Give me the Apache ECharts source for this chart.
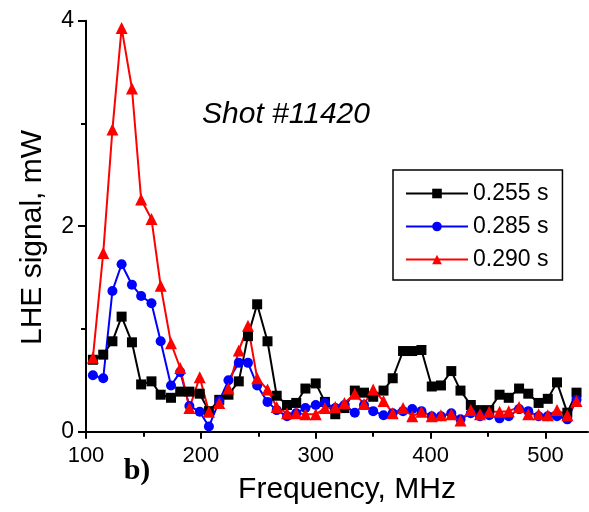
<!DOCTYPE html>
<html>
<head>
<meta charset="utf-8">
<script src="https://cdn.jsdelivr.net/npm/echarts@6/dist/echarts.min.js"></script>
<style>
  html, body { margin: 0; padding: 0; background: #fff; }
  #chart { width: 589px; height: 512px; }
</style>
</head>
<body>
<div id="chart"></div>
<script>
// Frequency grid of the spectrum analyser, MHz
const freq = [106, 115, 123, 131, 140, 148, 157, 165, 174, 182, 190, 199,
  207, 216, 224, 233, 241, 249, 258, 266, 275, 283, 291, 300,
  308, 317, 325, 334, 342, 350, 359, 367, 376, 384, 392, 401,
  409, 418, 426, 435, 443, 451, 460, 468, 477, 485, 494, 502,
  510, 519, 527];

// LHE signal, mW, at three moments of the shot
const sig255 = [0.70, 0.75, 0.88, 1.12, 0.87, 0.46, 0.49, 0.36, 0.33, 0.39, 0.39, 0.37,
  0.20, 0.31, 0.36, 0.49, 0.93, 1.24, 0.88, 0.35, 0.26, 0.28, 0.42, 0.47,
  0.29, 0.17, 0.23, 0.40, 0.38, 0.34, 0.40, 0.52, 0.785, 0.785, 0.795, 0.44,
  0.45, 0.59, 0.40, 0.26, 0.21, 0.21, 0.36, 0.33, 0.42, 0.37, 0.28, 0.32,
  0.48, 0.185, 0.38];
const sig285 = [0.55, 0.52, 1.37, 1.63, 1.43, 1.32, 1.25, 0.88, 0.45, 0.58, 0.25, 0.195,
  0.05, 0.30, 0.50, 0.67, 0.67, 0.45, 0.29, 0.21, 0.15, 0.18, 0.23, 0.26,
  0.28, 0.23, 0.26, 0.185, 0.26, 0.20, 0.16, 0.18, 0.20, 0.22, 0.20, 0.15,
  0.15, 0.18, 0.12, 0.18, 0.15, 0.16, 0.13, 0.15, 0.22, 0.20, 0.15, 0.15,
  0.15, 0.12, 0.31];
const sig290 = [0.72, 1.74, 2.94, 3.93, 3.34, 2.26, 2.07, 1.42, 0.86, 0.62, 0.23, 0.53,
  0.195, 0.28, 0.42, 0.79, 1.03, 0.52, 0.41, 0.24, 0.18, 0.18, 0.17, 0.17,
  0.23, 0.24, 0.28, 0.37, 0.27, 0.41, 0.30, 0.18, 0.23, 0.15, 0.195, 0.15,
  0.16, 0.17, 0.11, 0.21, 0.17, 0.195, 0.195, 0.20, 0.24, 0.17, 0.17, 0.16,
  0.21, 0.16, 0.30];

const seriesNames = ['0.255 s', '0.285 s', '0.290 s'];
const xMajorTicks = [100, 200, 300, 400, 500];
const xMinorTicks = [150, 250, 350, 450];

const FONT = '"Liberation Sans", Arial, sans-serif';
const pairs = vals => freq.map((f, i) => [f, vals[i]]);

const chart = echarts.init(document.getElementById('chart'), null, { renderer: 'canvas' });

const axisLine = { show: true, lineStyle: { color: '#000', width: 2 } };

function lineSeries(name, vals, color, symbol, size) {
  return {
    name: name,
    type: 'line',
    xAxisIndex: 0,
    yAxisIndex: 0,
    data: pairs(vals),
    symbol: symbol,
    symbolSize: size,
    showAllSymbol: true,
    lineStyle: { color: color, width: 2 },
    itemStyle: { color: color, borderWidth: 0 },
    emphasis: { disabled: true },
    animation: false
  };
}

chart.setOption({
  animation: false,
  backgroundColor: '#fff',
  grid: { left: 86, right: 1, top: 20.7, bottom: 80.3, outerBoundsMode: 'none' },
  xAxis: [{
    type: 'value',
    min: 100, max: 537,
    interval: 100,
    axisLine: axisLine,
    splitLine: { show: false },
    axisTick: { show: true, inside: false, length: 7, customValues: xMajorTicks,
      lineStyle: { color: '#000', width: 2 } },
    axisLabel: { show: true, customValues: xMajorTicks, margin: 13,
      color: '#000', fontSize: 22, fontFamily: FONT }
  }, {
    type: 'value',
    min: 100, max: 537,
    position: 'bottom',
    axisLine: { show: false },
    splitLine: { show: false },
    axisTick: { show: true, length: 5, customValues: xMinorTicks,
      lineStyle: { color: '#000', width: 2 } },
    axisLabel: { show: false }
  }],
  yAxis: {
    type: 'value',
    min: 0, max: 4,
    interval: 2,
    axisLine: axisLine,
    splitLine: { show: false },
    axisTick: { show: true, inside: false, length: 8, lineStyle: { color: '#000', width: 2 } },
    minorTick: { show: true, splitNumber: 2, length: 5, lineStyle: { color: '#000', width: 2 } },
    axisLabel: { margin: 12, color: '#000', fontSize: 23, fontFamily: FONT }
  },
  legend: {
    show: true,
    orient: 'vertical',
    left: 393, top: 170,
    padding: [12, 14, 9, 12],
    itemGap: 10,
    itemWidth: 62,
    itemHeight: 12,
    itemTextGap: 6,
    selectedMode: false,
    borderColor: '#000',
    borderWidth: 1.5,
    borderRadius: 0,
    backgroundColor: '#fff',
    textStyle: { color: '#000', fontSize: 23, fontFamily: FONT, lineHeight: 22 },
    data: seriesNames
  },
  series: [
    lineSeries(seriesNames[0], sig255, '#000000', 'rect', 10),
    lineSeries(seriesNames[1], sig285, '#0000ff', 'circle', 10),
    lineSeries(seriesNames[2], sig290, '#ff0000', 'triangle', 12)
  ],
  graphic: [
    {
      type: 'text', x: 286, y: 115,
      style: { text: 'Shot #11420', fill: '#000', font: 'italic 30px ' + FONT,
        align: 'center', verticalAlign: 'middle' }
    },
    {
      type: 'text', x: 347, y: 490,
      style: { text: 'Frequency, MHz', fill: '#000', font: '30px ' + FONT,
        align: 'center', verticalAlign: 'middle' }
    },
    {
      type: 'text', x: 33, y: 237.5, rotation: Math.PI / 2,
      style: { text: 'LHE signal, mW', fill: '#000', font: '30px ' + FONT,
        align: 'center', verticalAlign: 'middle' }
    },
    {
      type: 'text', x: 137, y: 471,
      style: { text: 'b)', fill: '#000', font: 'bold 30px "Liberation Serif", "Times New Roman", serif',
        align: 'center', verticalAlign: 'middle' }
    }
  ]
});
</script>
</body>
</html>
